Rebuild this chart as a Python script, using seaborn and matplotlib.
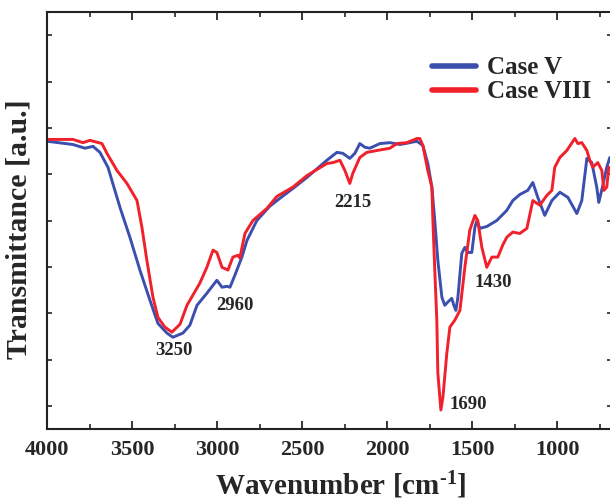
#!/usr/bin/env python3
"""FTIR transmittance spectra of Case V and Case VIII."""

import numpy as np
import pandas as pd
import seaborn as sns
from matplotlib import pyplot as plt

# Case V (blue)
wn_case5 = [4000, 3849, 3778, 3731, 3690, 3643, 3572, 3514, 3455, 3396, 3349, 3296,
            3261, 3202, 3161, 3119, 3061, 3002, 2972, 2943, 2925, 2896, 2855, 2825,
            2767, 2690, 2631, 2555, 2472, 2355, 2296, 2261, 2220, 2190, 2161, 2131,
            2102, 2043, 1984, 1925, 1867, 1825, 1790, 1761, 1737, 1720, 1702, 1678,
            1661, 1643, 1620, 1608, 1596, 1584, 1561, 1543, 1525, 1502, 1484, 1472,
            1455, 1414, 1355, 1296, 1261, 1220, 1173, 1143, 1114, 1073, 1031, 984,
            937, 884, 855, 825, 796, 767, 755, 731, 708, 690]
tr_case5 = [6.21, 6.14, 6.06, 6.10, 5.97, 5.65, 4.78, 4.14, 3.43, 2.78, 2.28, 2.07,
            1.98, 2.07, 2.24, 2.67, 2.93, 3.21, 3.06, 3.08, 3.06, 3.32, 3.71, 4.07,
            4.50, 4.81, 4.98, 5.19, 5.43, 5.80, 5.97, 5.95, 5.84, 5.95, 6.16, 6.08,
            6.06, 6.16, 6.18, 6.14, 6.18, 6.21, 6.12, 5.73, 5.22, 4.50, 3.64, 2.84,
            2.67, 2.74, 2.82, 2.67, 2.56, 2.84, 3.79, 3.92, 3.81, 3.81, 4.35, 4.50,
            4.33, 4.37, 4.50, 4.72, 4.93, 5.06, 5.15, 5.32, 5.00, 4.61, 4.93, 5.11,
            5.00, 4.65, 4.93, 5.84, 5.75, 5.22, 4.89, 5.26, 5.65, 5.86]

# Case VIII (red)
wn_case8 = [4000, 3849, 3790, 3749, 3678, 3649, 3590, 3531, 3472, 3443, 3414, 3378,
            3349, 3308, 3267, 3219, 3178, 3143, 3102, 3061, 3025, 3002, 2972, 2937,
            2908, 2878, 2867, 2837, 2790, 2708, 2649, 2555, 2472, 2355, 2319, 2278,
            2249, 2220, 2202, 2161, 2120, 2061, 1984, 1943, 1884, 1825, 1808, 1790,
            1761, 1737, 1731, 1720, 1708, 1702, 1684, 1672, 1649, 1631, 1602, 1572,
            1543, 1514, 1484, 1467, 1443, 1414, 1384, 1349, 1320, 1296, 1261, 1220,
            1178, 1143, 1102, 1061, 1031, 1014, 984, 943, 896, 878, 855, 825, 808,
            790, 761, 737, 725, 708, 696]
tr_case8 = [6.25, 6.25, 6.18, 6.23, 6.16, 5.95, 5.58, 5.30, 4.93, 4.35, 3.64, 2.84,
            2.41, 2.20, 2.09, 2.26, 2.67, 2.89, 3.15, 3.49, 3.86, 3.81, 3.49, 3.43,
            3.71, 3.75, 3.69, 4.22, 4.50, 4.76, 5.02, 5.22, 5.47, 5.73, 5.75, 5.80,
            5.58, 5.30, 5.52, 5.86, 5.97, 6.01, 6.06, 6.16, 6.18, 6.27, 6.27, 6.12,
            5.58, 5.22, 4.50, 3.43, 2.35, 1.21, 0.41, 0.69, 1.64, 2.20, 2.35, 2.56,
            3.49, 4.29, 4.61, 4.50, 3.92, 3.49, 3.71, 3.71, 3.97, 4.14, 4.25, 4.22,
            4.33, 4.93, 4.83, 5.04, 5.15, 5.65, 5.86, 6.01, 6.27, 6.16, 6.18, 6.01,
            5.80, 5.65, 5.75, 5.58, 5.15, 5.22, 5.65]

peak_labels = ["3250", "2960", "2215", "1690", "1430"]
peak_x = [3255, 2896, 2202, 1525, 1378]
peak_y = [1.70, 2.67, 4.89, 0.52, 3.17]


def main() -> None:
    sns.set_theme(style="ticks")
    plt.rcParams["font.family"] = ["Liberation Serif", "DejaVu Serif"]
    plt.rcParams["font.weight"] = "bold"
    plt.rcParams["mathtext.fontset"] = "custom"
    plt.rcParams["mathtext.rm"] = "Liberation Serif:bold"
    plt.rcParams["mathtext.bf"] = "Liberation Serif:bold"
    plt.rcParams["mathtext.default"] = "bf"

    df = pd.concat([
        pd.DataFrame({"wn": wn_case5, "tr": tr_case5, "case": "Case V"}),
        pd.DataFrame({"wn": wn_case8, "tr": tr_case8, "case": "Case VIII"}),
    ])

    fig = plt.figure(figsize=(6.1, 5.0), dpi=100)
    ax = fig.add_axes([0.0775, 0.142, 0.925, 0.834])

    sns.lineplot(data=df, x="wn", y="tr", hue="case",
                 palette={"Case V": "#3a4fae", "Case VIII": "#f2202a"},
                 linewidth=2.1, estimator=None, ax=ax)

    ax.set_xlim(4000, 680)
    ax.set_ylim(0, 9)
    ax.set_xticks(np.arange(4000, 999, -500))
    ax.set_xticks(np.arange(3750, 680, -250), minor=True)
    ax.set_yticks(np.arange(0.5, 9, 1))
    ax.set_yticklabels([])

    for side in ax.spines.values():
        side.set_linewidth(1.5)
        side.set_color("#222222")
    ax.tick_params(axis="x", which="major", direction="in", top=True, length=6,
                   width=1.3, labelsize=16, pad=8)
    ax.tick_params(axis="x", which="minor", direction="in", top=True, length=3.5,
                   width=1.2)
    ax.tick_params(axis="y", direction="in", left=True, right=True, length=3.5,
                   width=1.2)

    ax.set_xlabel(r"Wavenumber [cm$^{\text{-}1}$]", fontsize=21, fontweight="bold")
    ax.xaxis.set_label_coords(0.52, -0.098)
    ax.set_ylabel("Transmittance [a.u.]", fontsize=21.5, fontweight="bold")
    ax.yaxis.set_label_coords(-0.027, 0.48)

    for lab, px, py in zip(peak_labels, peak_x, peak_y):
        ax.text(px, py, lab, ha="center", va="center", fontsize=13.5,
                fontweight="bold")

    ax.legend(loc="upper left", bbox_to_anchor=(0.708, 0.887),
              bbox_transform=fig.transFigure, frameon=False, fontsize=18,
              handlelength=1.75, handletextpad=0.45, labelspacing=0.03,
              borderpad=0, borderaxespad=0)
    for line in ax.get_legend().get_lines():
        line.set_linewidth(4)

    fig.savefig("out.png", dpi=100)
    plt.close(fig)


if __name__ == "__main__":
    main()
